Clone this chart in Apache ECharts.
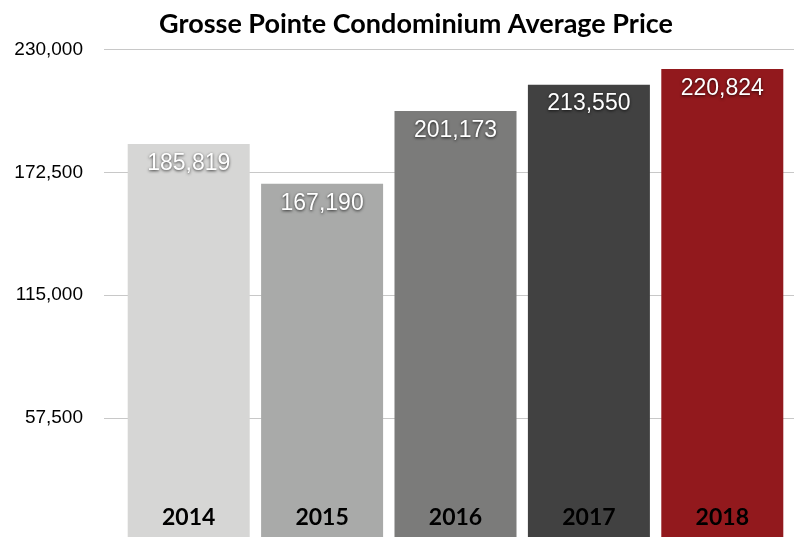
<!DOCTYPE html>
<html>
<head>
<meta charset="utf-8">
<script src="https://cdn.jsdelivr.net/npm/echarts@6/dist/echarts.min.js"></script>
<style>
  html, body { margin: 0; padding: 0; background: #fff; }
  #chart { width: 794px; height: 537px; }
</style>
</head>
<body>
<div id="chart"></div>
<script>
const years = ['2014', '2015', '2016', '2017', '2018'];
const avgPrice = [185819, 167190, 201173, 213550, 220824];
const barColors = ['#d6d6d5', '#a9aaa9', '#7b7b7a', '#414141', '#92191d'];
const yTicks = [0, 57500, 115000, 172500, 230000];

const chart = echarts.init(document.getElementById('chart'));

// two grids: the gridlines run wider than the bars do
// zero line sits just below the window edge
const option = {
  animation: false,
  title: {
    text: 'Grosse Pointe Condominium Average Price',
    left: 411,
    top: 6,
    textAlign: 'center',
    textStyle: { fontFamily: 'Lato', fontWeight: 'bold', fontSize: 27, color: '#000' }
  },
  grid: [
    { left: 104, right: 0, top: 49.5, height: 491.5, outerBoundsMode: 'none' },
    { left: 122, right: 5, top: 49.5, height: 491.5, outerBoundsMode: 'none' }
  ],
  xAxis: [
    { gridIndex: 0, type: 'category', data: years, show: false },
    {
      gridIndex: 1,
      type: 'category',
      data: years,
      z: 10,
      axisLine: { show: false },
      axisTick: { show: false },
      axisLabel: {
        inside: true,
        margin: 12,
        fontFamily: 'Lato',
        fontWeight: 'bold',
        fontSize: 23,
        color: '#000'
      }
    }
  ],
  yAxis: [
    {
      gridIndex: 0,
      type: 'value',
      min: yTicks[0],
      max: yTicks[yTicks.length - 1],
      interval: yTicks[1],
      axisLine: { show: false },
      axisTick: { show: false },
      splitLine: { lineStyle: { color: '#c8c8c8', width: 1 } },
      axisLabel: {
        margin: 21,
        fontFamily: 'Liberation Sans',
        fontSize: 19,
        color: '#000',
        formatter: v => v === 0 ? '' : v.toLocaleString('en-US')
      }
    },
    {
      gridIndex: 1,
      type: 'value',
      min: yTicks[0],
      max: yTicks[yTicks.length - 1],
      show: false
    }
  ],
  series: [{
    type: 'bar',
    xAxisIndex: 1,
    yAxisIndex: 1,
    barWidth: 122,
    data: avgPrice.map((v, i) => ({ value: v, itemStyle: { color: barColors[i] } })),
    label: {
      show: true,
      position: 'insideTop',
      distance: 8,
      fontFamily: 'Liberation Sans',
      fontSize: 23,
      color: '#fff',
      textShadowColor: 'rgba(0,0,0,0.75)',
      textShadowBlur: 3,
      textShadowOffsetY: 1,
      formatter: p => p.value.toLocaleString('en-US')
    }
  }]
};

chart.setOption(option);
</script>
</body>
</html>
